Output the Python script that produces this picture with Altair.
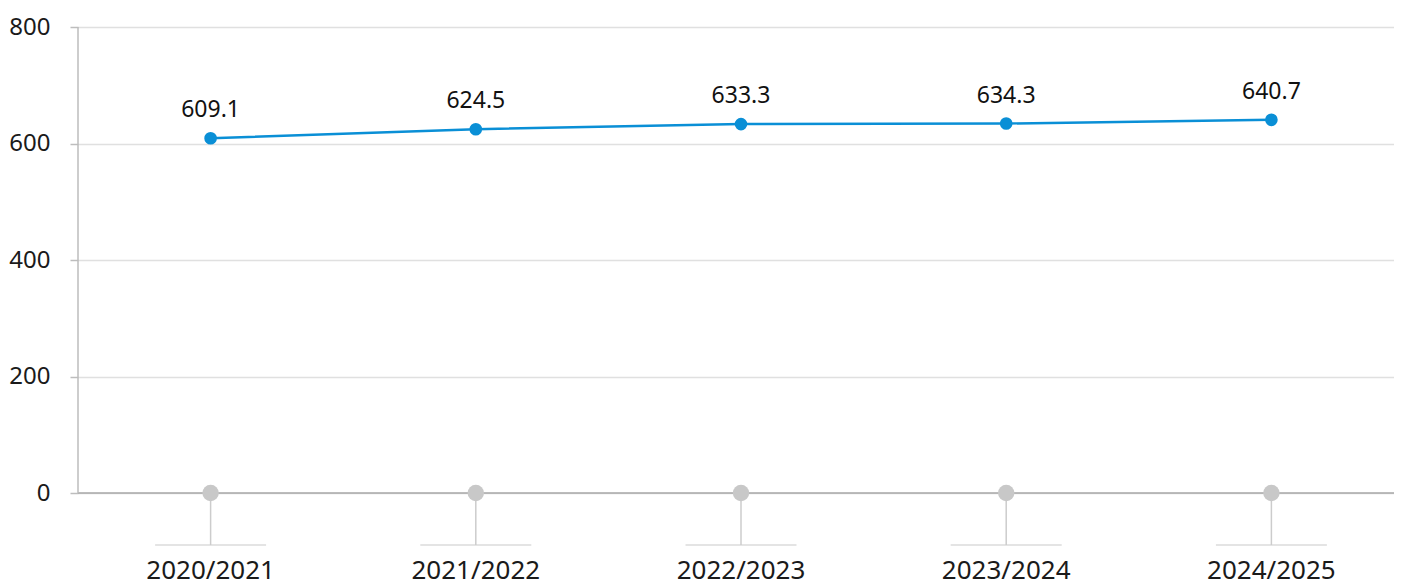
import altair as alt
import pandas as pd

seasons = ["2020/2021", "2021/2022", "2022/2023", "2023/2024", "2024/2025"]
values = [609.1, 624.5, 633.3, 634.3, 640.7]
y_ticks = [0, 200, 400, 600, 800]

FONT = "Noto Sans"
df = pd.DataFrame({"season": seasons, "value": values, "label": [f"{v:.1f}" for v in values]})

Y_MIN = -163
STEM = -89.3
LABEL_Y = -147.5
PLOT_W = 1316

xenc = alt.X("season:N", sort=seasons,
             scale=alt.Scale(type="point", padding=0.5, range=[0, 1326]), axis=None)
yscale = alt.Scale(domain=[Y_MIN, 800], nice=False, zero=False)

base = alt.Chart(df)

grid = base.mark_rule(opacity=0).encode(
    x=xenc,
    y=alt.Y("value:Q", scale=yscale, title=None,
            axis=alt.Axis(values=y_ticks, domain=False, grid=True, gridColor="#e0e0e0",
                          gridWidth=1.5, ticks=True, tickSize=8, tickColor="#bdbdbd",
                          tickWidth=1.5, labelFont=FONT, labelFontSize=24,
                          labelColor="#1a1a1a", labelPadding=20)),
)

zero_line = alt.Chart(pd.DataFrame({"y": [0]})).mark_rule(color="#a8a8a8", strokeWidth=1.5).encode(
    y=alt.Y("y:Q", scale=yscale), x=alt.value(0), x2=alt.value(1330)
)
left_axis = alt.Chart(pd.DataFrame({"y": [800], "y2": [0]})).mark_rule(color="#bdbdbd", strokeWidth=1.5).encode(
    x=alt.value(0), y=alt.Y("y:Q", scale=yscale), y2="y2:Q"
)

stems = base.transform_calculate(y0="0", y1=str(STEM)).mark_rule(color="#cccccc", strokeWidth=1.5).encode(
    x=xenc, y=alt.Y("y0:Q", scale=yscale), y2="y1:Q"
)
feet = base.transform_calculate(yf=str(STEM)).mark_tick(
    orient="horizontal", size=111, thickness=1.5, color="#cccccc"
).encode(x=xenc, y=alt.Y("yf:Q", scale=yscale))

gray_dots = base.transform_calculate(yz="0").mark_circle(size=270, color="#c8c8c8", opacity=1).encode(
    x=xenc, y=alt.Y("yz:Q", scale=yscale)
)

line = base.mark_line(color="#0a8fd6", strokeWidth=2.5).encode(x=xenc, y=alt.Y("value:Q", scale=yscale))
pts = base.mark_circle(size=160, color="#0a8fd6", opacity=1).encode(x=xenc, y=alt.Y("value:Q", scale=yscale))
labels = base.mark_text(font=FONT, fontSize=23, color="#111111", dy=-21, baseline="alphabetic").encode(
    x=xenc, y=alt.Y("value:Q", scale=yscale), text="label:N"
)

xlabels = base.transform_calculate(yl=str(LABEL_Y)).mark_text(
    font=FONT, fontSize=26, color="#1a1a1a", baseline="alphabetic"
).encode(x=xenc, y=alt.Y("yl:Q", scale=yscale), text="season:N")

chart = alt.layer(
    grid, zero_line, left_axis, stems, feet, gray_dots, line, pts, labels, xlabels
).properties(
    width=PLOT_W, height=561,
    autosize=alt.AutoSizeParams(type="none"),
    padding={"left": 70, "top": 19, "right": 0, "bottom": 0},
).configure(background="white").configure_view(stroke=None)

chart.save("out.html", embed_options={"renderer": "svg", "actions": False})
